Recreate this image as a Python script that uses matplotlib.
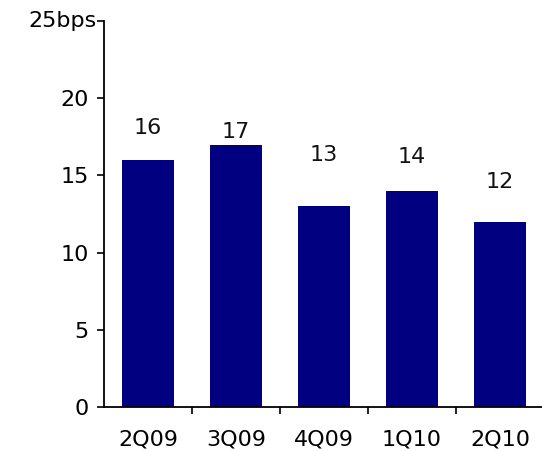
import matplotlib
matplotlib.use("Agg")
import matplotlib.pyplot as plt
import numpy as np

quarters = ["2Q09", "3Q09", "4Q09", "1Q10", "2Q10"]
bps = [16, 17, 13, 14, 12]

# label placement above each bar (pixels), the original has uneven gaps
label_offsets = [32, 13, 51, 34, 40]

plt.rcParams.update({'font.size': 16, 'font.family': 'DejaVu Sans'})
fig = plt.figure(figsize=(5.42, 4.51), dpi=100)
ax = fig.add_axes([104/542, 44/451, 440/542, 386/451])

x = np.arange(len(quarters))
ax.bar(x, bps, width=0.59, color="#000080")

for xi, v, off in zip(x, bps, label_offsets):
    ax.annotate(str(v), xy=(xi, v), xytext=(0, off), textcoords="offset pixels",
                ha="center", va="center", fontsize=16, color="#111111")

ax.set_xlim(-0.5, len(quarters) - 0.5)
ax.set_ylim(0, 25)

ax.set_yticks([0, 5, 10, 15, 20, 25], ["0", "5", "10", "15", "20", ""])
ax.annotate("25bps", xy=(-0.5, 25), xytext=(-7, 0), textcoords="offset pixels",
            ha="right", va="center", fontsize=16, annotation_clip=False)

ax.set_xticks(x, quarters)
ax.set_xticks(x[:-1] + 0.5, minor=True)
ax.tick_params(axis="x", which="major", length=0, pad=16)
ax.tick_params(axis="x", which="minor", length=5, width=1.2, direction="out")
ax.tick_params(axis="y", length=5, width=1.2, direction="out", pad=6)

for s in ["top", "right"]:
    ax.spines[s].set_visible(False)
for s in ["left", "bottom"]:
    ax.spines[s].set_linewidth(1.3)

fig.savefig("out.png", dpi=100)
